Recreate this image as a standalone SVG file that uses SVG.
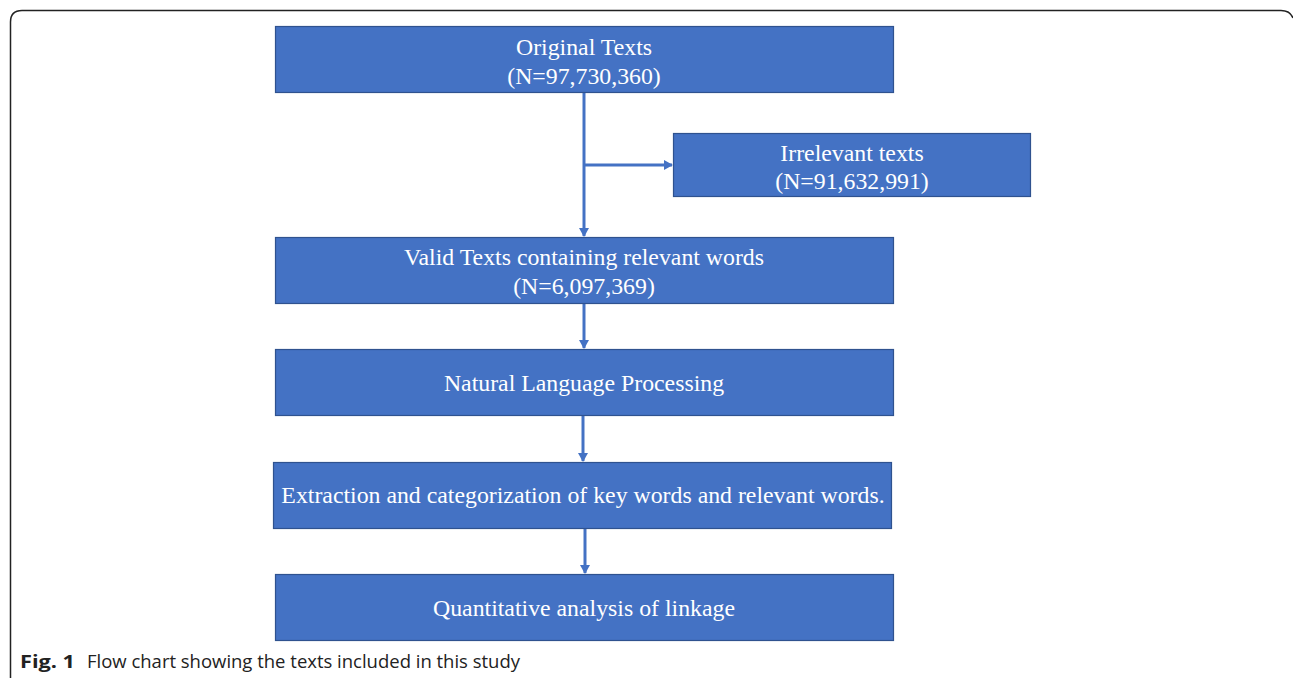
<svg xmlns="http://www.w3.org/2000/svg" width="1293" height="678" viewBox="0 0 1293 678">
<style>
.box{fill:#4472C4;stroke:#2F528F;stroke-width:1.2}
.t{fill:#fff;font-family:"Liberation Serif",serif;font-size:23.8px;text-anchor:middle}
.c{stroke:#4472C4;stroke-width:3;fill:none}
.cap{font-family:"Open Sans",sans-serif;font-size:18.5px;fill:#222}
</style>
<defs>
<marker id="ah" markerWidth="10" markerHeight="10" refX="8" refY="5" orient="auto" markerUnits="userSpaceOnUse">
<path d="M0,0 L9,5 L0,10 Z" fill="#4472C4"/>
</marker>
</defs>
<rect width="1293" height="678" fill="#fff"/>
<path d="M10.5,678 V22 Q10.5,10.5 22,10.5 H1281 Q1290,10.5 1293,18" fill="none" stroke="#222" stroke-width="1.5"/>
<g id="connectors">
<line class="c" x1="584" y1="93" x2="584" y2="236" marker-end="url(#ah)"/>
<line class="c" x1="584" y1="165" x2="672" y2="165" marker-end="url(#ah)"/>
<line class="c" x1="584" y1="303" x2="584" y2="348" marker-end="url(#ah)"/>
<line class="c" x1="583" y1="415" x2="583" y2="461" marker-end="url(#ah)"/>
<line class="c" x1="585" y1="528" x2="585" y2="573" marker-end="url(#ah)"/>
</g>
<g id="n1"><rect class="box" x="275.5" y="26.5" width="618" height="66"/><text class="t" x="584" y="55">Original Texts</text><text class="t" x="584" y="84">(N=97,730,360)</text></g>
<g id="n2"><rect class="box" x="673.5" y="133.5" width="357" height="63"/><text class="t" x="852" y="161">Irrelevant texts</text><text class="t" x="852" y="189">(N=91,632,991)</text></g>
<g id="n3"><rect class="box" x="275.5" y="237.5" width="618" height="66"/><text class="t" x="584" y="265">Valid Texts containing relevant words</text><text class="t" x="584" y="294">(N=6,097,369)</text></g>
<g id="n4"><rect class="box" x="275.5" y="349.5" width="618" height="66"/><text class="t" x="584" y="391">Natural Language Processing</text></g>
<g id="n5"><rect class="box" x="273.5" y="462.5" width="618" height="66"/><text class="t" x="583" y="503">Extraction and categorization of key words and relevant words.</text></g>
<g id="n6"><rect class="box" x="275.5" y="574.5" width="618" height="66"/><text class="t" x="584" y="616">Quantitative analysis of linkage</text></g>
<text class="cap" x="20" y="668"><tspan font-weight="bold" textLength="55" lengthAdjust="spacingAndGlyphs">Fig. 1</tspan><tspan x="87" textLength="433" lengthAdjust="spacingAndGlyphs">Flow chart showing the texts included in this study</tspan></text>
</svg>
